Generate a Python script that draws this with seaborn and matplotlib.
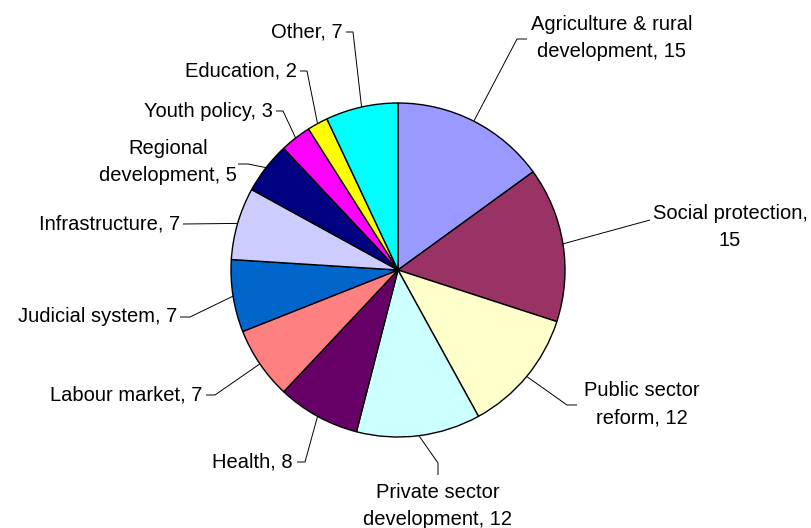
import matplotlib
matplotlib.use("Agg")
import matplotlib.pyplot as plt
import seaborn as sns
import numpy as np

# Project allocation by sector (share, %)
sectors = [
    "Agriculture & rural\ndevelopment", "Social protection,\n", "Public sector\nreform",
    "Private sector\ndevelopment", "Health", "Labour market", "Judicial system",
    "Infrastructure", "Regional\ndevelopment", "Youth policy", "Education", "Other",
]
shares = [15, 15, 12, 12, 8, 7, 7, 7, 5, 3, 2, 7]
colors = ["#9999FF", "#993366", "#FFFFCC", "#CCFFFF", "#660066", "#FF8080",
          "#0066CC", "#CCCCFF", "#000080", "#FF00FF", "#FFFF00", "#00FFFF"]

W, H = 812, 528
sns.set_theme(style="white")
plt.rcParams["font.family"] = ["Liberation Sans", "DejaVu Sans"]

fig = plt.figure(figsize=(W / 100, H / 100), dpi=100)
ax = fig.add_axes([0, 0, 1, 1])

cx, cy, r = 398, H - 270, 167
wedges, _ = ax.pie(shares, colors=colors, startangle=90, counterclock=False,
                   center=(cx, cy), radius=r, frame=False,
                   wedgeprops=dict(edgecolor="black", linewidth=1.0))
ax.set_xlim(0, W)
ax.set_ylim(0, H)
ax.set_aspect("equal")
ax.axis("off")

# label layout in pixel space (y measured from the top):
# (text x, text y, alignment, elbow point, attach point)
layout = [
    (612, 38, "center", (517, 39), (527, 39)),
    (730, 227, "center", (650, 220), (650, 220)),
    (642, 404, "center", (567, 405), (577, 405)),
    (438, 506, "center", (438, 463), (438, 475)),
    (293, 462, "right", (305, 462), (297, 462)),
    (202, 395, "right", (215, 395), (206, 395)),
    (177, 317, "right", (190, 317), (180, 317)),
    (180, 224, "right", (183, 224), (183, 224)),
    (168, 162, "center", (248, 164), (238, 164)),
    (273, 111, "right", (283, 111), (276, 111)),
    (297, 71, "right", (307, 71), (300, 71)),
    (343, 32, "right", (353, 32), (346, 32)),
]

for w, name, val, (tx, ty, ha, elbow, attach) in zip(wedges, sectors, shares, layout):
    mid = np.deg2rad((w.theta1 + w.theta2) / 2)
    ex, ey = cx + r * np.cos(mid), cy + r * np.sin(mid)
    xs = [ex, elbow[0], attach[0]]
    ys = [ey, H - elbow[1], H - attach[1]]
    ax.plot(xs, ys, color="black", lw=0.7, solid_capstyle="butt")
    if name.endswith(",\n"):
        label = f"{name}{val}"
    else:
        label = f"{name}, {val}"
    ax.text(tx, H - ty, label, ha=ha, va="center", fontsize=14.5,
            color="black", linespacing=1.55, multialignment="center")

fig.savefig("out.png", dpi=100, facecolor="white")
